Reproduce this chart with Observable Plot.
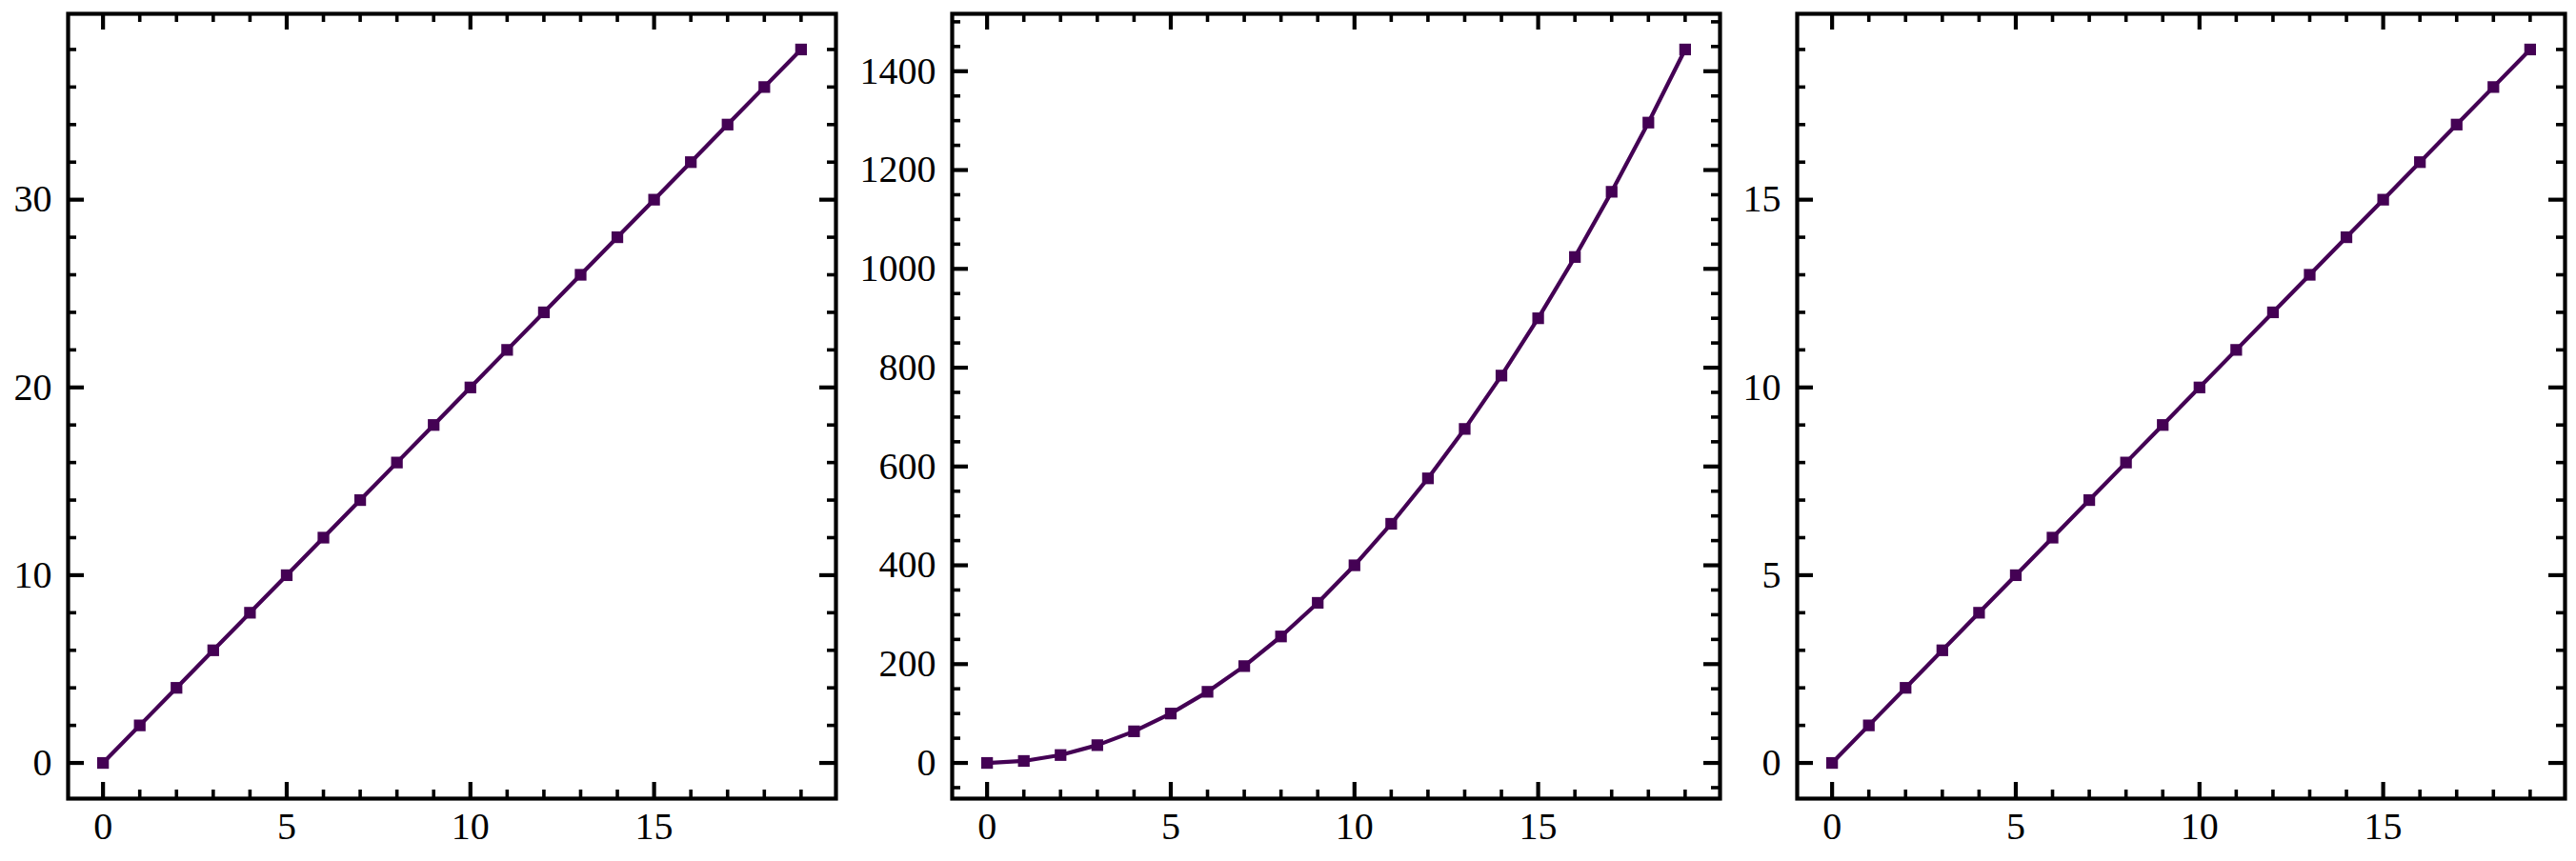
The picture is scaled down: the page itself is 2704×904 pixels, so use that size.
<!DOCTYPE html>
<html><head><meta charset="utf-8">
<script src="https://cdn.jsdelivr.net/npm/d3@7"></script>
<script src="https://cdn.jsdelivr.net/npm/@observablehq/plot@0.6"></script>
<style>
html,body{margin:0;padding:0;background:#fff;overflow:hidden;}
#fig{position:relative;width:2704px;height:904px;background:#fff;}
.panel{position:absolute;top:0;}
</style></head><body><div id="fig"></div>
<script>
// ---- data ----
const xs = [0,1,2,3,4,5,6,7,8,9,10,11,12,13,14,15,16,17,18,19];
const series1 = [0,2,4,6,8,10,12,14,16,18,20,22,24,26,28,30,32,34,36,38];
const series2 = [0,4,16,36,64,100,144,196,256,324,400,484,576,676,784,900,1024,1156,1296,1444];
const series3 = [0,1,2,3,4,5,6,7,8,9,10,11,12,13,14,15,16,17,18,19];

// ---- tick labels / tick positions ----
const xMajor = [0,5,10,15];
const xMinor = [1,2,3,4,6,7,8,9,11,12,13,14,16,17,18,19];
const y1Major = [0,10,20,30];
const y1Minor = [2,4,6,8,12,14,16,18,22,24,26,28,32,34,36,38];
const y2Major = [0,200,400,600,800,1000,1200,1400];
const y2Minor = [-50,50,100,150,250,300,350,450,500,550,650,700,750,850,900,950,1050,1100,1150,1250,1300,1350,1450,1500];
const y3Major = [0,5,10,15];
const y3Minor = [1,2,3,4,6,7,8,9,11,12,13,14,16,17,18,19];

const COLOR = "#440154";
const FONT = "'Liberation Serif', 'DejaVu Serif', serif";

function panel(ys, yMajor, yMinor, frameLeft) {
  const PW = 806, PH = 824, mL = 130, mR = 12, mT = 14, mB = 66;
  const data = xs.map((x, i) => ({x, y: ys[i]}));
  const pad = e => { const s = (e[1] - e[0]) * 0.05; return [e[0] - s, e[1] + s]; };
  const xDom = pad(d3.extent(xs)), yDom = pad(d3.extent(ys));
  const majL = 17, minL = 9, majW = 4.2, minW = 3.6;
  const ticksX = (arr, len, sw) => [
    Plot.tickX(arr, {x: d => d, insetTop: PH - len, stroke: "#000", strokeWidth: sw}),
    Plot.tickX(arr, {x: d => d, insetBottom: PH - len, stroke: "#000", strokeWidth: sw})
  ];
  const ticksY = (arr, len, sw) => [
    Plot.tickY(arr, {y: d => d, insetRight: PW - len, stroke: "#000", strokeWidth: sw}),
    Plot.tickY(arr, {y: d => d, insetLeft: PW - len, stroke: "#000", strokeWidth: sw})
  ];
  const svg = Plot.plot({
    width: mL + PW + mR, height: mT + PH + mB,
    marginLeft: mL, marginRight: mR, marginTop: mT, marginBottom: mB,
    style: {fontSize: "40px", fontFamily: FONT, background: "transparent", color: "#000", overflow: "visible"},
    x: {domain: xDom, ticks: xMajor, tickSize: 0, tickPadding: 14, tickFormat: d => String(d), label: null},
    y: {domain: yDom, ticks: yMajor, tickSize: 0, tickPadding: 17, tickFormat: d => String(d), label: null},
    marks: [
      Plot.line(data, {x: "x", y: "y", stroke: COLOR, strokeWidth: 4.2}),
      Plot.dot(data, {x: "x", y: "y", symbol: "square", r: Math.sqrt(150 / Math.PI), fill: COLOR, stroke: "none"}),
      ...ticksX(xMajor, majL, majW),
      ...ticksX(xMinor, minL, minW),
      ...ticksY(yMajor, majL, majW),
      ...ticksY(yMinor, minL, minW),
      Plot.frame({stroke: "#000", strokeWidth: 4.2})
    ]
  });
  const div = document.createElement("div");
  div.className = "panel";
  div.style.left = (frameLeft - mL) + "px";
  div.appendChild(svg);
  document.getElementById("fig").appendChild(div);
}

panel(series1, y1Major, y1Minor, 70.7);
panel(series2, y2Major, y2Minor, 998.5);
panel(series3, y3Major, y3Minor, 1885.5);
</script></body></html>
